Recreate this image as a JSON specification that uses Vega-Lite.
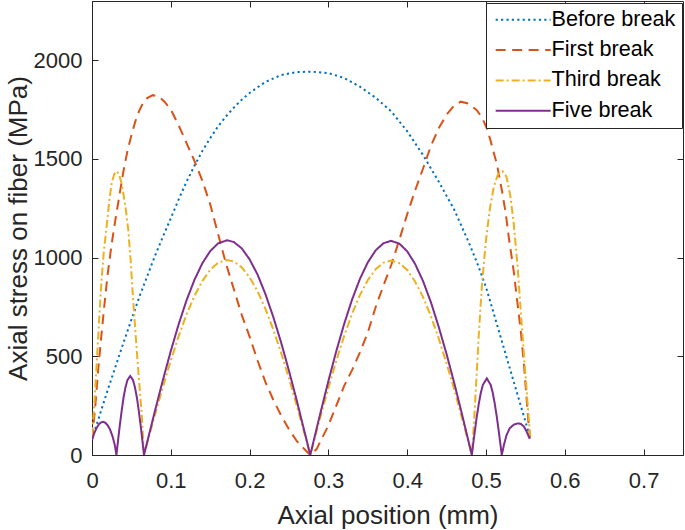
{
  "$schema": "https://vega.github.io/schema/vega-lite/v6.json",
  "autosize": {"type": "none"},
  "width": 591,
  "height": 454,
  "padding": {"left": 92, "top": 1, "right": 2, "bottom": 75},
  "background": "white",
  "config": {
    "font": "Liberation Sans",
    "view": {"stroke": "#262626", "strokeWidth": 1},
    "axis": {
      "grid": false,
      "labelFlush": false,
      "domainColor": "#262626",
      "tickColor": "#262626",
      "labelColor": "#262626",
      "titleColor": "#262626",
      "labelFont": "Liberation Sans",
      "titleFont": "Liberation Sans",
      "labelFontSize": 22,
      "titleFontSize": 26,
      "titleFontWeight": "normal",
      "tickSize": -6
    }
  },
  "datasets": {
    "curves": [
      {"s": "Before break", "x": 0, "y": 80},
      {"s": "Before break", "x": 0.01, "y": 205},
      {"s": "Before break", "x": 0.02, "y": 330},
      {"s": "Before break", "x": 0.03, "y": 450},
      {"s": "Before break", "x": 0.04, "y": 570},
      {"s": "Before break", "x": 0.05, "y": 685},
      {"s": "Before break", "x": 0.06, "y": 800},
      {"s": "Before break", "x": 0.07, "y": 905},
      {"s": "Before break", "x": 0.08, "y": 1010},
      {"s": "Before break", "x": 0.09, "y": 1105},
      {"s": "Before break", "x": 0.10, "y": 1200},
      {"s": "Before break", "x": 0.11, "y": 1295},
      {"s": "Before break", "x": 0.12, "y": 1385},
      {"s": "Before break", "x": 0.13, "y": 1465},
      {"s": "Before break", "x": 0.14, "y": 1540},
      {"s": "Before break", "x": 0.15, "y": 1605},
      {"s": "Before break", "x": 0.16, "y": 1665},
      {"s": "Before break", "x": 0.17, "y": 1715},
      {"s": "Before break", "x": 0.18, "y": 1760},
      {"s": "Before break", "x": 0.19, "y": 1800},
      {"s": "Before break", "x": 0.20, "y": 1834},
      {"s": "Before break", "x": 0.22, "y": 1890},
      {"s": "Before break", "x": 0.24, "y": 1925},
      {"s": "Before break", "x": 0.26, "y": 1940},
      {"s": "Before break", "x": 0.278, "y": 1942},
      {"s": "Before break", "x": 0.30, "y": 1935},
      {"s": "Before break", "x": 0.32, "y": 1910},
      {"s": "Before break", "x": 0.34, "y": 1866},
      {"s": "Before break", "x": 0.36, "y": 1810},
      {"s": "Before break", "x": 0.38, "y": 1740},
      {"s": "Before break", "x": 0.40, "y": 1640},
      {"s": "Before break", "x": 0.42, "y": 1520},
      {"s": "Before break", "x": 0.44, "y": 1385},
      {"s": "Before break", "x": 0.46, "y": 1240},
      {"s": "Before break", "x": 0.48, "y": 1060},
      {"s": "Before break", "x": 0.49, "y": 960},
      {"s": "Before break", "x": 0.50, "y": 850},
      {"s": "Before break", "x": 0.51, "y": 715},
      {"s": "Before break", "x": 0.52, "y": 578},
      {"s": "Before break", "x": 0.53, "y": 442},
      {"s": "Before break", "x": 0.54, "y": 306},
      {"s": "Before break", "x": 0.55, "y": 170},
      {"s": "Before break", "x": 0.556, "y": 88},

      {"s": "First break", "x": 0, "y": 80},
      {"s": "First break", "x": 0.004, "y": 240},
      {"s": "First break", "x": 0.008, "y": 440},
      {"s": "First break", "x": 0.012, "y": 610},
      {"s": "First break", "x": 0.016, "y": 770},
      {"s": "First break", "x": 0.02, "y": 920},
      {"s": "First break", "x": 0.025, "y": 1070},
      {"s": "First break", "x": 0.03, "y": 1200},
      {"s": "First break", "x": 0.035, "y": 1320},
      {"s": "First break", "x": 0.04, "y": 1440},
      {"s": "First break", "x": 0.045, "y": 1540},
      {"s": "First break", "x": 0.05, "y": 1620},
      {"s": "First break", "x": 0.055, "y": 1690},
      {"s": "First break", "x": 0.06, "y": 1745},
      {"s": "First break", "x": 0.065, "y": 1785},
      {"s": "First break", "x": 0.07, "y": 1808},
      {"s": "First break", "x": 0.077, "y": 1823},
      {"s": "First break", "x": 0.085, "y": 1815},
      {"s": "First break", "x": 0.092, "y": 1790},
      {"s": "First break", "x": 0.10, "y": 1750},
      {"s": "First break", "x": 0.11, "y": 1670},
      {"s": "First break", "x": 0.12, "y": 1580},
      {"s": "First break", "x": 0.13, "y": 1490},
      {"s": "First break", "x": 0.14, "y": 1390},
      {"s": "First break", "x": 0.15, "y": 1270},
      {"s": "First break", "x": 0.16, "y": 1120},
      {"s": "First break", "x": 0.17, "y": 970},
      {"s": "First break", "x": 0.18, "y": 840},
      {"s": "First break", "x": 0.19, "y": 710},
      {"s": "First break", "x": 0.20, "y": 600},
      {"s": "First break", "x": 0.21, "y": 480},
      {"s": "First break", "x": 0.22, "y": 370},
      {"s": "First break", "x": 0.23, "y": 280},
      {"s": "First break", "x": 0.24, "y": 200},
      {"s": "First break", "x": 0.25, "y": 130},
      {"s": "First break", "x": 0.26, "y": 70},
      {"s": "First break", "x": 0.27, "y": 28},
      {"s": "First break", "x": 0.277, "y": 0},
      {"s": "First break", "x": 0.285, "y": 30},
      {"s": "First break", "x": 0.30, "y": 150},
      {"s": "First break", "x": 0.31, "y": 250},
      {"s": "First break", "x": 0.32, "y": 350},
      {"s": "First break", "x": 0.33, "y": 430},
      {"s": "First break", "x": 0.34, "y": 520},
      {"s": "First break", "x": 0.35, "y": 620},
      {"s": "First break", "x": 0.36, "y": 750},
      {"s": "First break", "x": 0.37, "y": 860},
      {"s": "First break", "x": 0.38, "y": 965},
      {"s": "First break", "x": 0.39, "y": 1090},
      {"s": "First break", "x": 0.40, "y": 1220},
      {"s": "First break", "x": 0.41, "y": 1340},
      {"s": "First break", "x": 0.42, "y": 1450},
      {"s": "First break", "x": 0.43, "y": 1565},
      {"s": "First break", "x": 0.44, "y": 1655},
      {"s": "First break", "x": 0.45, "y": 1725},
      {"s": "First break", "x": 0.46, "y": 1772},
      {"s": "First break", "x": 0.468, "y": 1790},
      {"s": "First break", "x": 0.478, "y": 1780},
      {"s": "First break", "x": 0.488, "y": 1748},
      {"s": "First break", "x": 0.495, "y": 1710},
      {"s": "First break", "x": 0.502, "y": 1646},
      {"s": "First break", "x": 0.508, "y": 1560},
      {"s": "First break", "x": 0.514, "y": 1470},
      {"s": "First break", "x": 0.52, "y": 1345},
      {"s": "First break", "x": 0.525, "y": 1226},
      {"s": "First break", "x": 0.529, "y": 1100},
      {"s": "First break", "x": 0.535, "y": 937},
      {"s": "First break", "x": 0.539, "y": 800},
      {"s": "First break", "x": 0.544, "y": 633},
      {"s": "First break", "x": 0.548, "y": 466},
      {"s": "First break", "x": 0.551, "y": 314},
      {"s": "First break", "x": 0.554, "y": 160},
      {"s": "First break", "x": 0.556, "y": 88},

      {"s": "Third break", "x": 0, "y": 100},
      {"s": "Third break", "x": 0.003, "y": 260},
      {"s": "Third break", "x": 0.006, "y": 466},
      {"s": "Third break", "x": 0.009, "y": 680},
      {"s": "Third break", "x": 0.012, "y": 880},
      {"s": "Third break", "x": 0.015, "y": 1030},
      {"s": "Third break", "x": 0.019, "y": 1175},
      {"s": "Third break", "x": 0.022, "y": 1290},
      {"s": "Third break", "x": 0.025, "y": 1378},
      {"s": "Third break", "x": 0.028, "y": 1420},
      {"s": "Third break", "x": 0.031, "y": 1438},
      {"s": "Third break", "x": 0.034, "y": 1425},
      {"s": "Third break", "x": 0.037, "y": 1385},
      {"s": "Third break", "x": 0.04, "y": 1320},
      {"s": "Third break", "x": 0.043, "y": 1240},
      {"s": "Third break", "x": 0.046, "y": 1140},
      {"s": "Third break", "x": 0.049, "y": 990},
      {"s": "Third break", "x": 0.052, "y": 800},
      {"s": "Third break", "x": 0.055, "y": 630},
      {"s": "Third break", "x": 0.058, "y": 466},
      {"s": "Third break", "x": 0.061, "y": 310},
      {"s": "Third break", "x": 0.063, "y": 213},
      {"s": "Third break", "x": 0.066, "y": 0},
      {"s": "Third break", "x": 0.07, "y": 59},
      {"s": "Third break", "x": 0.075, "y": 132},
      {"s": "Third break", "x": 0.08, "y": 205},
      {"s": "Third break", "x": 0.09, "y": 345},
      {"s": "Third break", "x": 0.10, "y": 479},
      {"s": "Third break", "x": 0.11, "y": 602},
      {"s": "Third break", "x": 0.12, "y": 712},
      {"s": "Third break", "x": 0.13, "y": 806},
      {"s": "Third break", "x": 0.14, "y": 881},
      {"s": "Third break", "x": 0.15, "y": 938},
      {"s": "Third break", "x": 0.16, "y": 974},
      {"s": "Third break", "x": 0.1715, "y": 988},
      {"s": "Third break", "x": 0.18, "y": 980},
      {"s": "Third break", "x": 0.19, "y": 951},
      {"s": "Third break", "x": 0.20, "y": 900},
      {"s": "Third break", "x": 0.21, "y": 831},
      {"s": "Third break", "x": 0.22, "y": 741},
      {"s": "Third break", "x": 0.23, "y": 636},
      {"s": "Third break", "x": 0.24, "y": 517},
      {"s": "Third break", "x": 0.25, "y": 387},
      {"s": "Third break", "x": 0.26, "y": 248},
      {"s": "Third break", "x": 0.265, "y": 176},
      {"s": "Third break", "x": 0.27, "y": 103},
      {"s": "Third break", "x": 0.277, "y": 0},
      {"s": "Third break", "x": 0.28, "y": 45},
      {"s": "Third break", "x": 0.285, "y": 120},
      {"s": "Third break", "x": 0.29, "y": 195},
      {"s": "Third break", "x": 0.30, "y": 340},
      {"s": "Third break", "x": 0.31, "y": 477},
      {"s": "Third break", "x": 0.32, "y": 603},
      {"s": "Third break", "x": 0.33, "y": 715},
      {"s": "Third break", "x": 0.34, "y": 810},
      {"s": "Third break", "x": 0.35, "y": 886},
      {"s": "Third break", "x": 0.36, "y": 941},
      {"s": "Third break", "x": 0.37, "y": 975},
      {"s": "Third break", "x": 0.3795, "y": 985},
      {"s": "Third break", "x": 0.39, "y": 972},
      {"s": "Third break", "x": 0.40, "y": 937},
      {"s": "Third break", "x": 0.41, "y": 879},
      {"s": "Third break", "x": 0.42, "y": 801},
      {"s": "Third break", "x": 0.43, "y": 704},
      {"s": "Third break", "x": 0.44, "y": 590},
      {"s": "Third break", "x": 0.45, "y": 464},
      {"s": "Third break", "x": 0.46, "y": 327},
      {"s": "Third break", "x": 0.47, "y": 180},
      {"s": "Third break", "x": 0.475, "y": 105},
      {"s": "Third break", "x": 0.482, "y": 0},
      {"s": "Third break", "x": 0.485, "y": 180},
      {"s": "Third break", "x": 0.488, "y": 400},
      {"s": "Third break", "x": 0.491, "y": 620},
      {"s": "Third break", "x": 0.495, "y": 870},
      {"s": "Third break", "x": 0.50, "y": 1090},
      {"s": "Third break", "x": 0.505, "y": 1250},
      {"s": "Third break", "x": 0.51, "y": 1360},
      {"s": "Third break", "x": 0.515, "y": 1420},
      {"s": "Third break", "x": 0.521, "y": 1438},
      {"s": "Third break", "x": 0.526, "y": 1410},
      {"s": "Third break", "x": 0.531, "y": 1310},
      {"s": "Third break", "x": 0.535, "y": 1180},
      {"s": "Third break", "x": 0.54, "y": 960},
      {"s": "Third break", "x": 0.545, "y": 680},
      {"s": "Third break", "x": 0.55, "y": 410},
      {"s": "Third break", "x": 0.553, "y": 250},
      {"s": "Third break", "x": 0.556, "y": 95},

      {"s": "Five break", "x": 0, "y": 76},
      {"s": "Five break", "x": 0.003, "y": 112},
      {"s": "Five break", "x": 0.006, "y": 138},
      {"s": "Five break", "x": 0.009, "y": 157},
      {"s": "Five break", "x": 0.012, "y": 166},
      {"s": "Five break", "x": 0.0145, "y": 168},
      {"s": "Five break", "x": 0.017, "y": 163},
      {"s": "Five break", "x": 0.02, "y": 150},
      {"s": "Five break", "x": 0.023, "y": 128},
      {"s": "Five break", "x": 0.026, "y": 95},
      {"s": "Five break", "x": 0.029, "y": 50},
      {"s": "Five break", "x": 0.031, "y": 0},
      {"s": "Five break", "x": 0.033, "y": 71},
      {"s": "Five break", "x": 0.035, "y": 141},
      {"s": "Five break", "x": 0.0375, "y": 220},
      {"s": "Five break", "x": 0.04, "y": 290},
      {"s": "Five break", "x": 0.0425, "y": 343},
      {"s": "Five break", "x": 0.045, "y": 380},
      {"s": "Five break", "x": 0.0485, "y": 400},
      {"s": "Five break", "x": 0.052, "y": 380},
      {"s": "Five break", "x": 0.0545, "y": 343},
      {"s": "Five break", "x": 0.057, "y": 290},
      {"s": "Five break", "x": 0.0595, "y": 220},
      {"s": "Five break", "x": 0.062, "y": 141},
      {"s": "Five break", "x": 0.064, "y": 71},
      {"s": "Five break", "x": 0.066, "y": 0},
      {"s": "Five break", "x": 0.07, "y": 65},
      {"s": "Five break", "x": 0.075, "y": 145},
      {"s": "Five break", "x": 0.08, "y": 225},
      {"s": "Five break", "x": 0.09, "y": 380},
      {"s": "Five break", "x": 0.10, "y": 527},
      {"s": "Five break", "x": 0.11, "y": 663},
      {"s": "Five break", "x": 0.12, "y": 784},
      {"s": "Five break", "x": 0.13, "y": 887},
      {"s": "Five break", "x": 0.14, "y": 971},
      {"s": "Five break", "x": 0.15, "y": 1033},
      {"s": "Five break", "x": 0.16, "y": 1072},
      {"s": "Five break", "x": 0.1715, "y": 1088},
      {"s": "Five break", "x": 0.18, "y": 1079},
      {"s": "Five break", "x": 0.19, "y": 1047},
      {"s": "Five break", "x": 0.20, "y": 991},
      {"s": "Five break", "x": 0.21, "y": 915},
      {"s": "Five break", "x": 0.22, "y": 816},
      {"s": "Five break", "x": 0.23, "y": 700},
      {"s": "Five break", "x": 0.24, "y": 570},
      {"s": "Five break", "x": 0.25, "y": 426},
      {"s": "Five break", "x": 0.26, "y": 274},
      {"s": "Five break", "x": 0.265, "y": 193},
      {"s": "Five break", "x": 0.27, "y": 113},
      {"s": "Five break", "x": 0.277, "y": 0},
      {"s": "Five break", "x": 0.28, "y": 50},
      {"s": "Five break", "x": 0.285, "y": 133},
      {"s": "Five break", "x": 0.29, "y": 215},
      {"s": "Five break", "x": 0.30, "y": 375},
      {"s": "Five break", "x": 0.31, "y": 526},
      {"s": "Five break", "x": 0.32, "y": 664},
      {"s": "Five break", "x": 0.33, "y": 787},
      {"s": "Five break", "x": 0.34, "y": 892},
      {"s": "Five break", "x": 0.35, "y": 976},
      {"s": "Five break", "x": 0.36, "y": 1037},
      {"s": "Five break", "x": 0.37, "y": 1073},
      {"s": "Five break", "x": 0.3795, "y": 1085},
      {"s": "Five break", "x": 0.39, "y": 1071},
      {"s": "Five break", "x": 0.40, "y": 1032},
      {"s": "Five break", "x": 0.41, "y": 968},
      {"s": "Five break", "x": 0.42, "y": 882},
      {"s": "Five break", "x": 0.43, "y": 775},
      {"s": "Five break", "x": 0.44, "y": 649},
      {"s": "Five break", "x": 0.45, "y": 511},
      {"s": "Five break", "x": 0.46, "y": 360},
      {"s": "Five break", "x": 0.47, "y": 199},
      {"s": "Five break", "x": 0.475, "y": 116},
      {"s": "Five break", "x": 0.482, "y": 0},
      {"s": "Five break", "x": 0.484, "y": 64},
      {"s": "Five break", "x": 0.486, "y": 126},
      {"s": "Five break", "x": 0.4885, "y": 199},
      {"s": "Five break", "x": 0.491, "y": 263},
      {"s": "Five break", "x": 0.4935, "y": 316},
      {"s": "Five break", "x": 0.496, "y": 355},
      {"s": "Five break", "x": 0.501, "y": 388},
      {"s": "Five break", "x": 0.506, "y": 355},
      {"s": "Five break", "x": 0.5085, "y": 316},
      {"s": "Five break", "x": 0.511, "y": 263},
      {"s": "Five break", "x": 0.5135, "y": 199},
      {"s": "Five break", "x": 0.516, "y": 126},
      {"s": "Five break", "x": 0.518, "y": 64},
      {"s": "Five break", "x": 0.52, "y": 0},
      {"s": "Five break", "x": 0.523, "y": 55},
      {"s": "Five break", "x": 0.526, "y": 100},
      {"s": "Five break", "x": 0.53, "y": 135},
      {"s": "Five break", "x": 0.535, "y": 153},
      {"s": "Five break", "x": 0.54, "y": 160},
      {"s": "Five break", "x": 0.544, "y": 158},
      {"s": "Five break", "x": 0.548, "y": 145},
      {"s": "Five break", "x": 0.552, "y": 115},
      {"s": "Five break", "x": 0.5555, "y": 82}
    ]
  },
  "data": {"name": "curves"},
  "resolve": {"axis": {"x": "independent", "y": "independent"}},
  "layer": [
    {
      "mark": {"type": "line", "strokeWidth": 2, "strokeCap": "butt", "clip": true},
      "encoding": {
        "x": {
          "field": "x", "type": "quantitative",
          "scale": {"domain": [0, 0.75], "nice": false, "zero": false},
          "axis": {
            "orient": "bottom",
            "values": [0, 0.1, 0.2, 0.3, 0.4, 0.5, 0.6, 0.7],
            "format": "~g",
            "labelPadding": 21,
            "title": "Axial position (mm)",
            "titleY": 68,
            "titleBaseline": "alphabetic"
          }
        },
        "y": {
          "field": "y", "type": "quantitative",
          "scale": {"domain": [0, 2300], "nice": false, "zero": false},
          "axis": {
            "orient": "left",
            "values": [0, 500, 1000, 1500, 2000],
            "format": "d",
            "labelPadding": 16,
            "title": "Axial stress on fiber (MPa)",
            "titleX": -66,
            "titleBaseline": "alphabetic"
          }
        },
        "color": {
          "field": "s", "type": "nominal",
          "scale": {
            "domain": ["Before break", "First break", "Third break", "Five break"],
            "range": ["#0072BD", "#D95319", "#EDB120", "#7E2F8E"]
          },
          "legend": {
            "title": null,
            "orient": "none",
            "legendX": 394,
            "legendY": 2,
            "padding": 6,
            "strokeColor": "#262626",
            "fillColor": "white",
            "labelFont": "Liberation Sans",
            "labelFontSize": 21.6,
            "labelColor": "#000000",
            "labelOffset": 38,
            "symbolType": "M-1.3,0H8.7",
            "symbolSize": 121,
            "symbolStrokeWidth": 2,
            "rowPadding": 7.3
          }
        },
        "strokeDash": {
          "field": "s", "type": "nominal",
          "scale": {
            "domain": ["Before break", "First break", "Third break", "Five break"],
            "range": [[2.2, 3.2], [10, 6.5], [8, 3, 2, 3], [1, 0]]
          },
          "legend": null
        }
      }
    },
    {
      "mark": {"type": "line", "strokeOpacity": 0},
      "encoding": {
        "x": {
          "field": "x", "type": "quantitative",
          "axis": {
            "orient": "top",
            "values": [0, 0.1, 0.2, 0.3, 0.4, 0.5, 0.6, 0.7],
            "labels": false, "domain": false, "title": null
          }
        },
        "y": {
          "field": "y", "type": "quantitative",
          "axis": {
            "orient": "right",
            "values": [0, 500, 1000, 1500, 2000],
            "labels": false, "domain": false, "title": null
          }
        },
        "detail": {"field": "s", "type": "nominal"}
      }
    }
  ]
}
